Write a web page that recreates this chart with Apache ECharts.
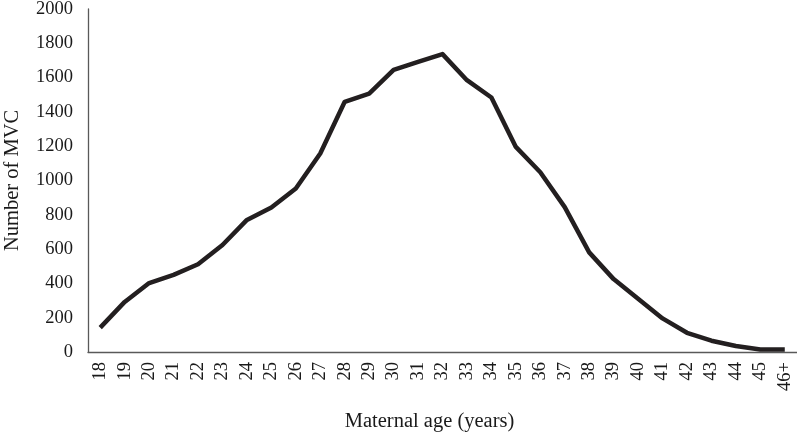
<!DOCTYPE html>
<html>
<head>
<meta charset="utf-8">
<script src="https://cdn.jsdelivr.net/npm/echarts@6/dist/echarts.min.js"></script>
<style>html,body{margin:0;padding:0;background:#fff}#c{width:797px;height:433px}</style>
</head>
<body>
<div id="c"></div>
<script>
const categories = ['18','19','20','21','22','23','24','25','26','27','28','29','30','31','32','33','34','35','36','37','38','39','40','41','42','43','44','45','46+'];
const mvcCounts = [142, 292, 402, 450, 512, 624, 770, 843, 953, 1157, 1459, 1506, 1645, 1692, 1737, 1585, 1484, 1196, 1048, 845, 581, 425, 310, 196, 112, 66, 35, 14, 14];
const yTicks = { min: 0, max: 2000, interval: 200 };

const font = 'Liberation Serif, Times New Roman, serif';
const chart = echarts.init(document.getElementById('c'));
chart.setOption({
  animation: false,
  grid: { left: 88, right: 0, top: 9, bottom: 81, containLabel: false, outerBoundsMode: 'none' },
  xAxis: {
    type: 'category',
    data: categories,
    boundaryGap: true,
    axisLine: { lineStyle: { color: '#595959', width: 1.3 } },
    axisTick: { show: false },
    axisLabel: { rotate: 90, color: '#1a1a1a', fontFamily: font, fontSize: 18.5, margin: 10, interval: 0 },
    name: 'Maternal age (years)',
    nameLocation: 'middle',
    nameGap: 59,
    nameTextStyle: { color: '#1a1a1a', fontFamily: font, fontSize: 20.5, padding: [0, 26, 0, 0] }
  },
  yAxis: {
    type: 'value',
    min: yTicks.min, max: yTicks.max, interval: yTicks.interval,
    axisLine: { show: true, lineStyle: { color: '#595959', width: 1.3 } },
    axisTick: { show: false },
    splitLine: { show: false },
    axisLabel: { color: '#1a1a1a', fontFamily: font, fontSize: 18.5, margin: 15, formatter: v => String(v) },
    name: 'Number of MVC',
    nameLocation: 'middle',
    nameGap: 65,
    nameTextStyle: { color: '#1a1a1a', fontFamily: font, fontSize: 20.5 }
  },
  series: [{
    type: 'line',
    data: mvcCounts,
    symbol: 'none',
    lineStyle: { color: '#231f20', width: 4.5, join: 'round' }
  }]
});
</script>
</body>
</html>
